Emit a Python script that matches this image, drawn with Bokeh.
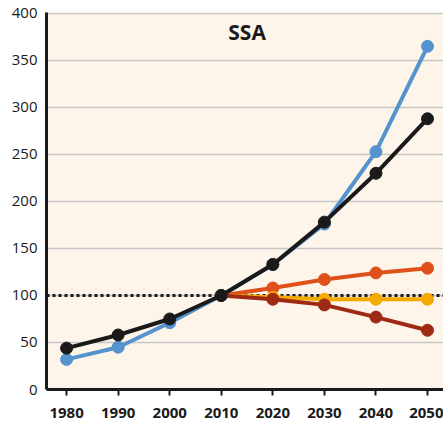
from bokeh.plotting import figure
from bokeh.models import Span, Label, FixedTicker, Range1d
from bokeh.embed import file_html
from bokeh.resources import INLINE

years = [1980, 1990, 2000, 2010, 2020, 2030, 2040, 2050]
blue_vals = [32, 45, 71, 100, 133, 176, 253, 365]
black_vals = [44, 58, 75, 100, 133, 178, 230, 288]
proj_years = [2010, 2020, 2030, 2040, 2050]
orange_vals = [100, 108, 117, 124, 129]
yellow_vals = [100, 98, 96, 96, 96]
darkred_vals = [100, 96, 90, 77, 63]
y_ticks = [0, 50, 100, 150, 200, 250, 300, 350, 400]
title_text = "SSA"

FONT = "Open Sans"

p = figure(width=443, height=430, output_backend="svg", toolbar_location=None,
           x_range=Range1d(1976.1, 2053.1), y_range=Range1d(0, 401),
           min_border_left=46, min_border_right=0, min_border_top=12, min_border_bottom=41)
p.background_fill_color = "#FDF5EA"
p.border_fill_color = "white"
p.outline_line_color = None

p.xgrid.visible = False
p.ygrid.grid_line_color = "#C6C6C6"
p.ygrid.grid_line_width = 1.3
p.yaxis.ticker = FixedTicker(ticks=y_ticks)
p.xaxis.ticker = FixedTicker(ticks=years)

p.yaxis.axis_line_color = "#1a1a1a"
p.yaxis.axis_line_width = 3
p.yaxis.major_tick_line_color = None
p.yaxis.minor_tick_line_color = None
p.yaxis.major_tick_in = 0
p.yaxis.major_tick_out = 0
p.yaxis.major_label_standoff = 9
p.yaxis.major_label_text_font = FONT
p.yaxis.major_label_text_font_size = "15px"
p.yaxis.major_label_text_color = "#1a1a1a"

p.xaxis.axis_line_color = "#1a1a1a"
p.xaxis.axis_line_width = 3
p.xaxis.major_tick_line_color = "#1a1a1a"
p.xaxis.major_tick_line_width = 2
p.xaxis.major_tick_in = 0
p.xaxis.major_tick_out = 6
p.xaxis.minor_tick_line_color = None
p.xaxis.major_label_standoff = 12
p.xaxis.major_label_text_font = FONT
p.xaxis.major_label_text_font_style = "bold"
p.xaxis.major_label_text_font_size = "15px"
p.xaxis.major_label_text_color = "#1a1a1a"

ref = Span(location=100, dimension="width", line_color="#1a1a1a", line_width=3,
           line_dash="3 3", level="underlay")
p.add_layout(ref)

series = [
    (proj_years, orange_vals, "#E0501A"),
    (proj_years, yellow_vals, "#F5AA00"),
    (proj_years, darkred_vals, "#9E2A14"),
    (years, blue_vals, "#5593CE"),
    (years, black_vals, "#1a1a1a"),
]
for xs, ys, c in series:
    p.line(xs, ys, line_color=c, line_width=4)
    p.scatter(xs, ys, size=12, fill_color=c, line_color=c)

p.add_layout(Label(x=2015, y=380, text=title_text, text_align="center", text_baseline="middle",
                   text_font=FONT, text_font_style="bold", text_font_size="21px",
                   text_color="#1a1a1a"))

open("out.html", "w").write(file_html(p, INLINE))
